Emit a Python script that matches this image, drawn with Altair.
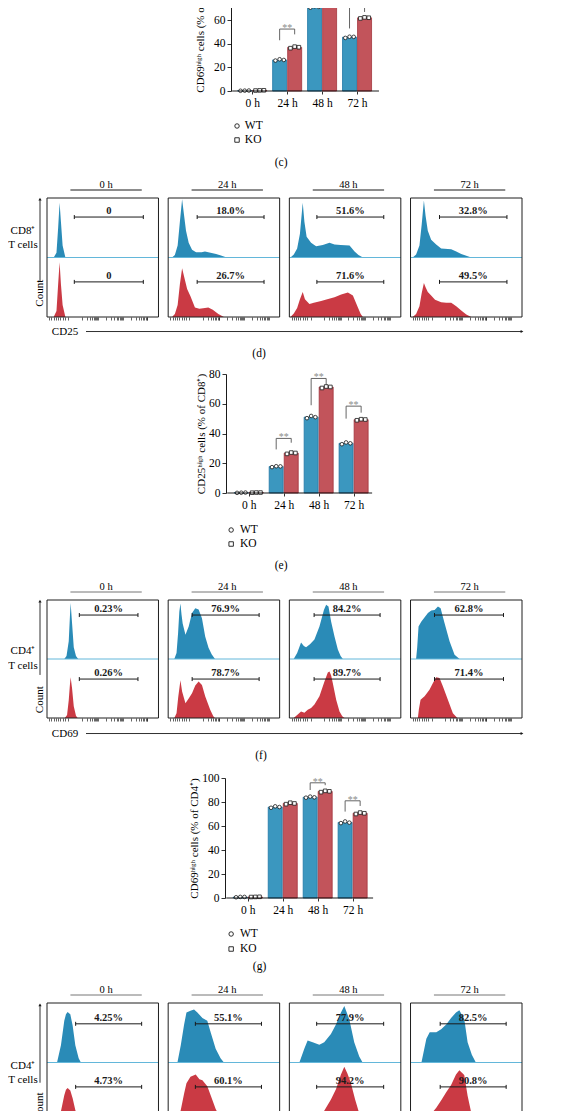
import json
import altair as alt
import pandas as pd

SERIF = "Liberation Serif"
BLUE_BAR, BLUE_EDGE = "#3b97bf", "#1f77a6"
RED_BAR, RED_EDGE = "#c2545b", "#a3343c"
BLUE_H, RED_H = "#2a8bb7", "#ca3a44"
MID_LINE = "#63b7da"

TIMES = ["0 h", "24 h", "48 h", "72 h"]
GENOS = ["WT", "KO"]

# ---------------- (c) CD69high % of CD8+ ----------------
C_WT = [0.3, 26.3, 71.3, 45.6]
C_KO = [0.5, 37.0, 86.0, 62.0]
C_WT_REPS = [[0.2, 0.3, 0.4], [25.8, 26.9, 26.3], [70.6, 71.8, 71.3], [45.0, 46.0, 45.9]]
C_KO_REPS = [[0.4, 0.5, 0.6], [36.3, 37.6, 37.1], [85.2, 86.5, 86.3], [61.5, 62.4, 62.1]]
C_SIG = [[1, 52.5, 43.0, 48.0], [2, 96.0, 80.0, 91.0], [3, 73.0, 53.0, 67.0]]

# ---------------- (e) CD25high % of CD8+ ----------------
E_WT = [0.2, 17.8, 51.0, 33.4]
E_KO = [0.3, 26.8, 71.2, 49.3]
E_WT_REPS = [[0.1, 0.2, 0.3], [17.4, 18.0, 17.9], [50.3, 51.8, 51.0], [32.8, 34.0, 33.4]]
E_KO_REPS = [[0.2, 0.3, 0.3], [26.3, 27.2, 26.9], [70.6, 71.6, 71.3], [48.9, 49.6, 49.4]]
E_SIG = [[1, 36.7, 29.3, 33.8], [2, 77.0, 59.0, 72.5], [3, 58.4, 50.0, 54.0]]

# ---------------- (g) CD69high % of CD4+ ----------------
G_WT = [0.8, 75.8, 84.0, 63.0]
G_KO = [0.9, 78.8, 88.8, 70.6]
G_WT_REPS = [[0.6, 0.9, 0.9], [75.2, 76.4, 75.8], [83.6, 84.5, 83.9], [62.4, 63.8, 62.8]]
G_KO_REPS = [[0.8, 0.9, 1.0], [78.2, 79.4, 78.8], [88.2, 89.3, 88.9], [70.0, 71.2, 70.6]]
G_SIG = [[2, 96.0, 90.0, 94.0], [3, 81.0, 72.0, 76.7]]

# ---------------- (d) CD25 histograms, CD8+ ----------------
D_WT_0 = [(6, 0), (8.5, 0.08), (10, 0.5), (11.3, 0.92), (12.5, 0.6), (14, 0.2), (16.5, 0)]
D_WT_24 = [(3.5, 0), (6, 0.04), (8.5, 0.2), (10.5, 0.6), (12.5, 0.98), (14, 0.75), (16, 0.45), (18.4, 0.25),
           (21.4, 0.13), (25, 0.09), (30, 0.09), (33, 0.1), (38, 0.08), (43, 0.06), (48, 0.03), (52.5, 0)]
D_WT_48 = [(1, 0), (4, 0.05), (7, 0.15), (9.5, 0.4), (12, 0.92), (13.5, 0.6), (15.5, 0.35), (19.5, 0.25),
           (24, 0.19), (30, 0.21), (36, 0.25), (40.5, 0.22), (46, 0.21), (54, 0.2), (58.5, 0.1), (62, 0.04), (66, 0)]
D_WT_72 = [(2, 0), (5, 0.05), (8, 0.2), (10, 0.55), (12, 0.96), (13.5, 0.7), (15.5, 0.45), (18.5, 0.3),
           (23, 0.22), (27.5, 0.15), (36.5, 0.14), (41, 0.1), (45.5, 0.06), (50, 0.03), (54.5, 0)]
D_KO_0 = [(6, 0), (8.5, 0.1), (10, 0.55), (11.3, 0.92), (12.5, 0.55), (14, 0.2), (16.5, 0)]
D_KO_24 = [(3.5, 0), (6, 0.05), (8.5, 0.2), (10.5, 0.55), (12.5, 0.82), (14, 0.7), (17, 0.47), (20, 0.35),
           (24, 0.16), (28, 0.14), (33, 0.15), (36, 0.16), (40, 0.12), (45, 0.05), (50, 0)]
D_KO_48 = [(1, 0), (4, 0.06), (7, 0.15), (9.5, 0.3), (12, 0.42), (14, 0.3), (18, 0.22), (22, 0.24),
           (28.5, 0.27), (34, 0.3), (40.5, 0.33), (46.5, 0.38), (52.5, 0.41), (57, 0.36), (61.5, 0.16), (64, 0.05), (66, 0)]
D_KO_72 = [(2, 0), (5, 0.05), (8, 0.18), (10, 0.4), (12, 0.57), (13.5, 0.5), (15.5, 0.42), (18.5, 0.36),
           (22, 0.29), (27.5, 0.25), (32, 0.24), (36.5, 0.24), (41, 0.18), (45.5, 0.11), (50, 0.04), (54.5, 0)]
D_WT_PCT = ["0", "18.0%", "51.6%", "32.8%"]
D_KO_PCT = ["0", "26.7%", "71.6%", "49.5%"]
D_GATES = [[24.5, 86.4], [26.0, 86.0], [24.7, 84.7], [26.0, 86.5]]

# ---------------- (f) CD69 histograms, CD4+ ----------------
F_WT_0 = [(15.5, 0), (17.5, 0.05), (19.5, 0.3), (20.5, 0.7), (21.2, 0.95), (22.5, 0.6), (24, 0.2), (26, 0.05), (28, 0)]
F_WT_24 = [(5.5, 0), (7.5, 0.1), (8.9, 0.44), (10, 0.8), (11, 0.94), (12, 0.75), (13, 0.6), (15.5, 0.41),
           (18.4, 0.55), (21.4, 0.78), (24.3, 0.86), (27.3, 0.84), (30.3, 0.69), (33.2, 0.38), (36.2, 0.19),
           (39, 0.08), (42, 0)]
F_WT_48 = [(3.9, 0), (7, 0.1), (10.5, 0.28), (13, 0.22), (15, 0.2), (18.5, 0.25), (22.5, 0.33), (27, 0.55),
           (31, 0.83), (33, 0.92), (35.1, 0.89), (37.5, 0.63), (40.5, 0.38), (43.5, 0.16), (46, 0.05), (48, 0)]
F_WT_72 = [(5, 0), (6, 0.2), (7.2, 0.55), (9.6, 0.63), (12, 0.69), (15.6, 0.78), (18.6, 0.82), (21.6, 0.83),
           (24.6, 0.89), (27, 0.86), (30.5, 0.61), (35, 0.3), (39.5, 0.07), (44, 0)]
F_KO_0 = [(16, 0), (18, 0.05), (19.5, 0.3), (20.5, 0.55), (21.2, 0.69), (22.5, 0.5), (24, 0.2), (26, 0.04), (27.5, 0)]
F_KO_24 = [(5.5, 0), (7.5, 0.08), (9, 0.35), (11, 0.64), (12.5, 0.45), (15.5, 0.25), (18.4, 0.33), (21.4, 0.42),
           (24.3, 0.55), (27.3, 0.62), (30.3, 0.56), (33.2, 0.37), (37.7, 0.14), (40.5, 0.03), (42, 0)]
F_KO_48 = [(3.9, 0), (7, 0.05), (10.5, 0.11), (13.5, 0.09), (16.5, 0.14), (19.5, 0.17), (22.5, 0.23), (27, 0.37),
           (31.5, 0.62), (34.5, 0.77), (36, 0.79), (37.5, 0.72), (39, 0.59), (42, 0.31), (45, 0.11), (47.5, 0.03), (49.5, 0)]
F_KO_72 = [(6.6, 0), (7.5, 0.15), (9, 0.31), (12.6, 0.37), (17, 0.48), (20, 0.59), (23, 0.69), (26, 0.68),
           (29, 0.54), (33.5, 0.31), (38, 0.08), (42, 0)]
F_WT_PCT = ["0.23%", "76.9%", "84.2%", "62.8%"]
F_KO_PCT = ["0.26%", "78.7%", "89.7%", "71.4%"]
F_GATES = [[29.0, 81.6], [21.5, 81.6], [22.2, 81.4], [21.5, 83.4]]

# ---------------- (h) histograms, CD4+ ----------------
H_WT_0 = [(9, 0), (12.5, 0.29), (15.5, 0.7), (17, 0.81), (18.5, 0.85), (20.9, 0.81), (23, 0.62), (25.4, 0.29),
          (28.4, 0.07), (30.4, 0)]
H_WT_24 = [(8.3, 0), (11.3, 0.29), (14.3, 0.64), (16.4, 0.84), (20, 0.87), (23.2, 0.89), (26.2, 0.84), (30.7, 0.75),
           (35.1, 0.7), (38.1, 0.51), (42.6, 0.23), (47, 0.07), (50, 0)]
H_WT_48 = [(9, 0), (13.4, 0.23), (16.4, 0.37), (20.9, 0.34), (26.9, 0.3), (31.3, 0.34), (37.3, 0.48), (41.8, 0.64),
           (46.3, 0.84), (49.3, 0.95), (53.7, 0.73), (58.2, 0.34), (62.7, 0.1), (65.7, 0)]
H_WT_72 = [(9.8, 0), (14.2, 0.4), (17.2, 0.51), (23.1, 0.51), (27.5, 0.56), (32, 0.64), (36.4, 0.75), (40.8, 0.84),
           (43.8, 0.88), (48.2, 0.73), (51.2, 0.34), (55, 0.13), (58.6, 0)]
H_KO_0 = [(9, 0), (12.5, 0.18), (15.5, 0.45), (17, 0.54), (18.5, 0.57), (20.9, 0.53), (23, 0.4), (25.4, 0.2),
          (28.4, 0.05), (30.4, 0)]
H_KO_24 = [(8.3, 0), (11.3, 0.2), (14.3, 0.48), (16.4, 0.65), (20, 0.76), (24.7, 0.8), (28, 0.72), (30.7, 0.7),
           (35.1, 0.6), (38.1, 0.45), (42.6, 0.22), (47, 0.06), (50, 0)]
H_KO_48 = [(10, 0), (20, 0.08), (27, 0.13), (31.3, 0.19), (37.3, 0.38), (41.8, 0.55), (46.3, 0.8), (49.3, 0.93),
           (52, 0.82), (55, 0.67), (59, 0.38), (62, 0.19), (65, 0.06), (67, 0)]
H_KO_72 = [(10, 0), (17, 0.1), (23.1, 0.24), (28, 0.38), (32, 0.5), (36.4, 0.62), (40.8, 0.8), (43.8, 0.87),
           (48.2, 0.79), (51.2, 0.44), (54.1, 0.19), (57, 0.04), (58.6, 0)]
H_WT_PCT = ["4.25%", "55.1%", "77.9%", "82.5%"]
H_KO_PCT = ["4.73%", "60.1%", "94.2%", "90.8%"]
H_GATES = [[25.7, 84.9], [24.4, 83.7], [24.5, 84.6], [26.6, 85.8]]

# axis tick marks under each histogram box (biexponential-style)
TICK_LOCAL = [2, 4, 6, 8, 10, 12, 14, 16, 19, 31, 35.5, 38.5, 40.5, 42, 43.3, 44.4, 45.3, 46,
              53, 57.5, 60.5, 62.5, 64, 65.3, 66.4, 67.3, 68, 75, 79.5, 82.5, 84.5, 86, 87.3, 88.4, 89.3, 90]

# ======================= layout helpers =======================
PLOT_W = 475          # px, from first box left edge to last box right edge
LEFT_PX = 46          # page x of the shared plot left edge
PX_PER_GROUP = 35.7
BAR_OFF = 0.215
REP_JIT = [-0.12, 0.0, 0.12]
STRIDE = 108.7        # histogram box stride in local units (box = 100 units)
PX_PER_UNIT = PLOT_W / (3 * STRIDE + 100)
SHAPE_SCALE = alt.Scale(domain=GENOS, range=["circle", "square"])


def bar_panel(wt, ko, wt_reps, ko_reps, sig, ytitle, ymax, height, g0_px, axis_px, axis_end_px,
              caption, cap_px, cap_below_px, legend_px):
    a = -(g0_px - LEFT_PX) / PX_PER_GROUP
    xdom = [a, a + PLOT_W / PX_PER_GROUP]
    ppu = height / ymax
    x_axis = alt.Axis(values=[0, 1, 2, 3], labelExpr=json.dumps(TIMES) + "[datum.value]", domain=False,
                      tickSize=3, tickColor="black", tickWidth=0.8, labelFont=SERIF, labelFontSize=11.5,
                      labelColor="black", labelPadding=3, grid=False, title=None, labelFlush=False,
                      labelOverlap=False)
    y_axis = alt.Axis(values=list(range(0, ymax + 1, 20)), offset=-(axis_px - LEFT_PX), title=ytitle,
                      titleFont=SERIF, titleFontSize=11, titleFontWeight="normal", titleColor="black",
                      titlePadding=2, labelFont=SERIF, labelFontSize=11.5, labelColor="black", labelPadding=2,
                      labelFlush=False, labelOverlap=False, tickSize=4, tickColor="black", tickWidth=0.8,
                      domainColor="black", domainWidth=0.9, grid=False)

    def X(f):
        return alt.X(f, type="quantitative", scale=alt.Scale(domain=xdom, nice=False, zero=False), axis=x_axis)

    def Y(f):
        return alt.Y(f, type="quantitative", scale=alt.Scale(domain=[0, ymax], nice=False), axis=y_axis,
                     stack=False)

    bar_rows, pt_rows = [], []
    for i in range(4):
        bar_rows.append({"geno": "WT", "xb": i - BAR_OFF, "v": wt[i], "zero": 0})
        bar_rows.append({"geno": "KO", "xb": i + BAR_OFF, "v": ko[i], "zero": 0})
        for j in range(3):
            pt_rows.append({"geno": "WT", "px": i - BAR_OFF + REP_JIT[j], "v": wt_reps[i][j]})
            pt_rows.append({"geno": "KO", "px": i + BAR_OFF + REP_JIT[j], "v": ko_reps[i][j]})
    seg_rows, star_rows = [], []
    for i, top, lb, rb in sig:
        xl, xr = i - BAR_OFF, i + BAR_OFF
        seg_rows += [{"x1": xl, "x2": xl, "y1": lb, "y2": top},
                     {"x1": xl, "x2": xr, "y1": top, "y2": top},
                     {"x1": xr, "x2": xr, "y1": rb, "y2": top}]
        star_rows.append({"xs": i, "ys": top, "s": "**"})

    bars = alt.Chart(pd.DataFrame(bar_rows)).mark_bar(width=14, strokeWidth=0.8, orient="vertical").encode(
        x=X("xb"), y=Y("v"), y2=alt.Y2("zero"),
        color=alt.Color("geno:N", scale=alt.Scale(domain=GENOS, range=[BLUE_BAR, RED_BAR]), legend=None),
        stroke=alt.Stroke("geno:N", scale=alt.Scale(domain=GENOS, range=[BLUE_EDGE, RED_EDGE]), legend=None),
    )
    brackets = alt.Chart(pd.DataFrame(seg_rows)).mark_rule(color="#555555", strokeWidth=0.9).encode(
        x=X("x1"), x2=alt.X2("x2"), y=Y("y1"), y2=alt.Y2("y2"))
    stars = alt.Chart(pd.DataFrame(star_rows)).mark_text(font=SERIF, fontSize=10, color="#8a8a8a",
                                                          baseline="alphabetic", dy=2).encode(
        x=X("xs"), y=Y("ys"), text="s:N")
    pts = alt.Chart(pd.DataFrame(pt_rows)).mark_point(filled=True, fill="white", stroke="#1a1a1a",
                                                       strokeWidth=0.8, size=13, opacity=1).encode(
        x=X("px"), y=Y("v"), shape=alt.Shape("geno:N", scale=SHAPE_SCALE, legend=None))
    base = alt.Chart(pd.DataFrame([{"x0": (axis_px - g0_px) / PX_PER_GROUP,
                                    "x1": (axis_end_px - g0_px) / PX_PER_GROUP, "y": 0}])).mark_rule(
        color="black", strokeWidth=0.9).encode(x=X("x0"), x2=alt.X2("x1"), y=Y("y"))
    cap = alt.Chart(pd.DataFrame([{"cx": (cap_px - g0_px) / PX_PER_GROUP, "cy": -cap_below_px / ppu,
                                   "t": caption}])).mark_text(font=SERIF, fontSize=11.5, color="black",
                                                               baseline="alphabetic").encode(
        x=X("cx"), y=Y("cy"), text="t:N")
    # key (WT / KO) drawn below the axis
    sx, sy, tx, step = legend_px
    key = pd.DataFrame([{"geno": g, "sx": (sx - g0_px) / PX_PER_GROUP, "tx": (tx - g0_px) / PX_PER_GROUP,
                         "ky": -(sy + n * step) / ppu} for n, g in enumerate(GENOS)])
    key_sym = alt.Chart(key).mark_point(filled=True, fill="white", stroke="#1a1a1a", strokeWidth=0.9,
                                        size=20, opacity=1).encode(
        x=X("sx"), y=Y("ky"), shape=alt.Shape("geno:N", scale=SHAPE_SCALE, legend=None))
    key_txt = alt.Chart(key).mark_text(font=SERIF, fontSize=11.5, color="black", align="left",
                                       baseline="middle").encode(x=X("tx"), y=Y("ky"), text="geno:N")
    return alt.layer(bars, brackets, stars, pts, base, cap, key_sym, key_txt).properties(width=PLOT_W, height=height)


def hist_row(wt_curves, ko_curves, wt_pct, ko_pct, gates, gate_y, height, title_color,
             cell_label, lab_y, arrow_y, count_y, xlab=None, caption=None):
    ppu_y = height / 2.0
    x_axis = alt.Axis(values=[k * STRIDE + t for k in range(4) for t in TICK_LOCAL], labels=False,
                      domain=False, grid=False, title=None, tickSize=3, tickColor="#222222", tickWidth=0.7)

    def X(f):
        return alt.X(f, type="quantitative", scale=alt.Scale(domain=[0, 3 * STRIDE + 100], nice=False, zero=False),
                     axis=x_axis)

    def Y(f):
        return alt.Y(f, type="quantitative", scale=alt.Scale(domain=[0, 2], nice=False, zero=False), axis=None,
                     stack=False)

    area_rows, box_rows, gate_rows, cap_rows, ttl_rows = [], [], [], [], []
    for k in range(4):
        off = k * STRIDE
        for geno, curve, b in (("WT", wt_curves[k], 1.0), ("KO", ko_curves[k], 0.0)):
            for x, d in curve:
                area_rows.append({"series": f"{k}{geno}", "geno": geno, "X": off + x, "top": b + d, "base": b})
        box_rows.append({"x0": off, "x1": off + 100, "y0": 0, "y1": 2, "ym": 1})
        g1, g2 = gates[k]
        for gy, txt in ((gate_y[0], wt_pct[k]), (gate_y[1], ko_pct[k])):
            gate_rows.append({"x1": off + g1, "x2": off + g2, "gy": gy, "xc": off + (g1 + g2) / 2, "t": txt})
            cap_rows += [{"gx": off + g1, "gy": gy}, {"gx": off + g2, "gy": gy}]
        ttl_rows.append({"x1": off + 21, "x2": off + 85, "xc": off + 53, "y": 2 + 8 / ppu_y, "t": TIMES[k]})

    areas = alt.Chart(pd.DataFrame(area_rows)).mark_area(opacity=1).encode(
        x=X("X"), y=Y("top"), y2=alt.Y2("base"), detail="series:N",
        color=alt.Color("geno:N", scale=alt.Scale(domain=GENOS, range=[BLUE_H, RED_H]), legend=None))
    bdf = pd.DataFrame(box_rows)
    mid = alt.Chart(bdf).mark_rule(color=MID_LINE, strokeWidth=1).encode(x=X("x0"), x2=alt.X2("x1"), y=Y("ym"))
    boxes = alt.Chart(bdf).mark_rect(fill="transparent", stroke="#1e1e1e", strokeWidth=1).encode(
        x=X("x0"), x2=alt.X2("x1"), y=Y("y0"), y2=alt.Y2("y1"))
    gdf = pd.DataFrame(gate_rows)
    gl = alt.Chart(gdf).mark_rule(color="#1a1a1a", strokeWidth=1).encode(x=X("x1"), x2=alt.X2("x2"), y=Y("gy"))
    gcaps = alt.Chart(pd.DataFrame(cap_rows)).mark_rule(color="#1a1a1a", strokeWidth=1, yOffset=-2,
                                                         y2Offset=2).encode(x=X("gx"), y=Y("gy"), y2=alt.Y2("gy"))
    gtxt = alt.Chart(gdf).mark_text(font=SERIF, fontSize=10.5, fontWeight="bold", color="#1a1a1a",
                                    baseline="alphabetic", dy=-3).encode(x=X("xc"), y=Y("gy"), text="t:N")
    tdf = pd.DataFrame(ttl_rows)
    tl = alt.Chart(tdf).mark_rule(color=title_color, strokeWidth=1).encode(x=X("x1"), x2=alt.X2("x2"), y=Y("y"))
    tt = alt.Chart(tdf).mark_text(font=SERIF, fontSize=10.5, color="black", baseline="alphabetic", dy=-2).encode(
        x=X("xc"), y=Y("y"), text="t:N")

    ax_x = (39 - LEFT_PX) / PX_PER_UNIT
    lab_x = (22 - LEFT_PX) / PX_PER_UNIT
    ann = pd.DataFrame([{"x": lab_x, "y": lab_y[0], "t": cell_label},
                        {"x": lab_x, "y": lab_y[1], "t": "T cells"}])
    labs = alt.Chart(ann).mark_text(font=SERIF, fontSize=11, color="black", baseline="middle").encode(
        x=X("x"), y=Y("y"), text="t:N")
    vline = alt.Chart(pd.DataFrame([{"x": ax_x, "y1": arrow_y[0], "y2": arrow_y[1]}])).mark_rule(
        color="#1a1a1a", strokeWidth=0.9).encode(x=X("x"), y=Y("y1"), y2=alt.Y2("y2"))
    vhead = alt.Chart(pd.DataFrame([{"x": ax_x, "y": arrow_y[1]}])).mark_point(
        shape="triangle-up", filled=True, size=10, color="#1a1a1a", opacity=1).encode(x=X("x"), y=Y("y"))
    count = alt.Chart(pd.DataFrame([{"x": ax_x, "y": count_y, "t": "Count"}])).mark_text(
        font=SERIF, fontSize=11, color="black", angle=270, baseline="middle").encode(x=X("x"), y=Y("y"), text="t:N")
    layers = [areas, mid, boxes, gl, gcaps, gtxt, tl, tt, labs, vline, vhead, count]

    if xlab is not None:
        name, ly = xlab
        xa = pd.DataFrame([{"x1": (85 - LEFT_PX) / PX_PER_UNIT, "x2": 3 * STRIDE + 100, "y": ly,
                            "lx": (64 - LEFT_PX) / PX_PER_UNIT, "t": name}])
        layers.append(alt.Chart(xa).mark_rule(color="#1a1a1a", strokeWidth=0.9).encode(
            x=X("x1"), x2=alt.X2("x2"), y=Y("y")))
        layers.append(alt.Chart(xa).mark_point(shape="triangle-right", filled=True, size=10, color="#1a1a1a",
                                               opacity=1).encode(x=X("x2"), y=Y("y")))
        layers.append(alt.Chart(xa).mark_text(font=SERIF, fontSize=11, color="black", baseline="middle").encode(
            x=X("lx"), y=Y("y"), text="t:N"))
    if caption is not None:
        txt, cx_px, below_px = caption
        cdf = pd.DataFrame([{"x": (cx_px - LEFT_PX) / PX_PER_UNIT, "y": -below_px / ppu_y, "t": txt}])
        layers.append(alt.Chart(cdf).mark_text(font=SERIF, fontSize=11.5, color="black", baseline="alphabetic").encode(
            x=X("x"), y=Y("y"), text="t:N"))
    return alt.layer(*layers).properties(width=PLOT_W, height=height)


def spacer(h):
    return alt.Chart(pd.DataFrame({"z": [0]})).mark_point(opacity=0).encode(
        x=alt.value(0), y=alt.value(0)).properties(width=1, height=h)


# legend_px: (symbol x, first symbol y below axis, label x, row step) in px
panel_c = bar_panel(C_WT, C_KO, C_WT_REPS, C_KO_REPS, C_SIG, "CD69\u02b0\u2071\u1d4d\u02b0 cells (% of CD8\u207a)",
                    100, 118, 250.5, 230, 380, "(c)", 280, 75, (235, 35, 243, 14))
panel_d = hist_row([D_WT_0, D_WT_24, D_WT_48, D_WT_72], [D_KO_0, D_KO_24, D_KO_48, D_KO_72],
                   D_WT_PCT, D_KO_PCT, D_GATES, (1.68, 0.59), 119, "#1a1a1a",
                   "CD8\u207a", (1.44, 1.21), (0.59, 1.98), 0.40, ("CD25", -0.244), ("(d)", 258, 40))
panel_e = bar_panel(E_WT, E_KO, E_WT_REPS, E_KO_REPS, E_SIG, "CD25\u02b0\u2071\u1d4d\u02b0 cells (% of CD8\u207a)",
                    80, 119, 247, 225, 373, "(e)", 280, 76, (229, 37, 238, 14))
panel_f = hist_row([F_WT_0, F_WT_24, F_WT_48, F_WT_72], [F_KO_0, F_KO_24, F_KO_48, F_KO_72],
                   F_WT_PCT, F_KO_PCT, F_GATES, (1.745, 0.66), 118, "#777777",
                   "CD4\u207a", (1.14, 0.88), (0.73, 1.98), 0.31, ("CD69", -0.263), ("(f)", 260, 41))
panel_g = bar_panel(G_WT, G_KO, G_WT_REPS, G_KO_REPS, G_SIG, "CD69\u02b0\u2071\u1d4d\u02b0 cells (% of CD4\u207a)",
                    100, 120, 246, 224, 374, "(g)", 258, 72, (229, 36, 238, 15))
panel_h = hist_row([H_WT_0, H_WT_24, H_WT_48, H_WT_72], [H_KO_0, H_KO_24, H_KO_48, H_KO_72],
                   H_WT_PCT, H_KO_PCT, H_GATES, (1.65, 0.59), 119, "#777777",
                   "CD4\u207a", (0.94, 0.71), (0.66, 1.97), 0.27)

chart = alt.vconcat(panel_c, spacer(107), panel_d, spacer(57), panel_e, spacer(107), panel_f, spacer(60),
                    panel_g, spacer(105), panel_h, spacing=0, bounds="flush").resolve_scale(
    shape="independent", color="independent", stroke="independent"
).properties(
    padding={"left": 0, "top": -41, "right": 6, "bottom": -14}
).configure(font=SERIF).configure_view(strokeWidth=0)

chart.save("out.html", embed_options={"renderer": "svg", "actions": False})
